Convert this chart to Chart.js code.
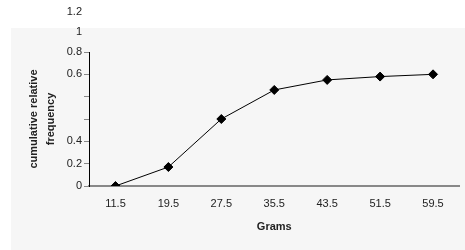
<!DOCTYPE html>
<html>
<head>
<meta charset="utf-8">
<script src="https://cdn.jsdelivr.net/npm/chart.js@4"></script>
<style>
  html, body { margin: 0; padding: 0; background: #ffffff; }
  #wrap { width: 465px; height: 250px; }
</style>
</head>
<body>
<div id="wrap"><canvas id="ogive-chart" width="465" height="250"></canvas></div>
<script>
// x categories (grams) and cumulative relative frequency
const grams = ['11.5', '19.5', '27.5', '35.5', '43.5', '51.5', '59.5'];
const cumFreq = [0, 0.17, 0.6, 0.86, 0.95, 0.98, 1.0];

// y axis runs 0..1.2 in steps of 0.2, labels as printed in the original
const yTickValues = [0, 0.2, 0.4, 0.6, 0.8, 1.0, 1.2];
const yTickLabels = ['0', '0.2', '0.4', '', '', '0.6', '0.8'];
// the two stray labels printed above the plot
const extraTopLabels = ['1', '1.2'];

const FONT = 'Liberation Sans, Arial, sans-serif';

const backgroundBox = {
    id: 'backgroundBox',
    beforeDraw(chart) {
        const ctx = chart.ctx;
        ctx.save();
        ctx.fillStyle = '#f6f6f6';
        ctx.fillRect(11, 28, chart.width - 11, chart.height - 28);
        ctx.restore();
    }
};

const strayLabels = {
    id: 'strayLabels',
    afterDraw(chart) {
        const ctx = chart.ctx;
        const y = chart.scales.y;
        ctx.save();
        ctx.font = '11px ' + FONT;
        ctx.fillStyle = '#222';
        ctx.textAlign = 'right';
        ctx.textBaseline = 'middle';
        extraTopLabels.forEach((lab, i) => {
            ctx.fillText(lab, y.right - 7, y.top - 20 * (i + 1));
        });
        ctx.restore();
    }
};

let ctx = document.getElementById('ogive-chart').getContext('2d');
let ogive = new Chart(ctx, {
    type: 'line',
    data: {
        labels: grams,
        datasets: [{
            label: 'cumulative relative frequency',
            data: cumFreq,
            borderColor: '#000',
            borderWidth: 1,
            pointStyle: 'rectRot',
            pointRadius: 4.5,
            pointBackgroundColor: '#000',
            pointBorderColor: '#000',
            tension: 0
        }]
    },
    options: {
        responsive: false,
        animation: false,
        layout: { padding: { top: 52, right: 5, left: 0, bottom: 0 } },
        plugins: {
            legend: { display: false },
            tooltip: { enabled: false }
        },
        scales: {
            x: {
                type: 'category',
                offset: true,
                grid: { drawOnChartArea: false, drawTicks: false },
                border: { color: '#888', width: 2 },
                ticks: { color: '#222', font: { family: FONT, size: 11 }, padding: 11 },
                title: {
                    display: true,
                    text: 'Grams',
                    color: '#222',
                    font: { family: FONT, size: 11, weight: 'bold' },
                    padding: { top: 0, bottom: 16 }
                },
                afterFit: (scale) => { scale.height = 64; }
            },
            y: {
                min: 0,
                max: 1.2,
                afterBuildTicks: (scale) => {
                    scale.ticks = yTickValues.map(v => ({ value: v }));
                },
                grid: { drawOnChartArea: false, tickLength: 5, tickColor: '#888' },
                border: { color: '#000', width: 1 },
                ticks: {
                    color: '#222',
                    font: { family: FONT, size: 11 },
                    padding: 2,
                    callback: (v, i) => yTickLabels[i]
                },
                title: {
                    display: true,
                    text: ['cumulative relative', 'frequency'],
                    color: '#222',
                    font: { family: FONT, size: 11, weight: 'bold', lineHeight: 1.55 },
                    padding: { top: 25 }
                },
                afterFit: (scale) => { scale.width = 89; }
            }
        }
    },
    plugins: [backgroundBox, strayLabels]
});
</script>
</body>
</html>
